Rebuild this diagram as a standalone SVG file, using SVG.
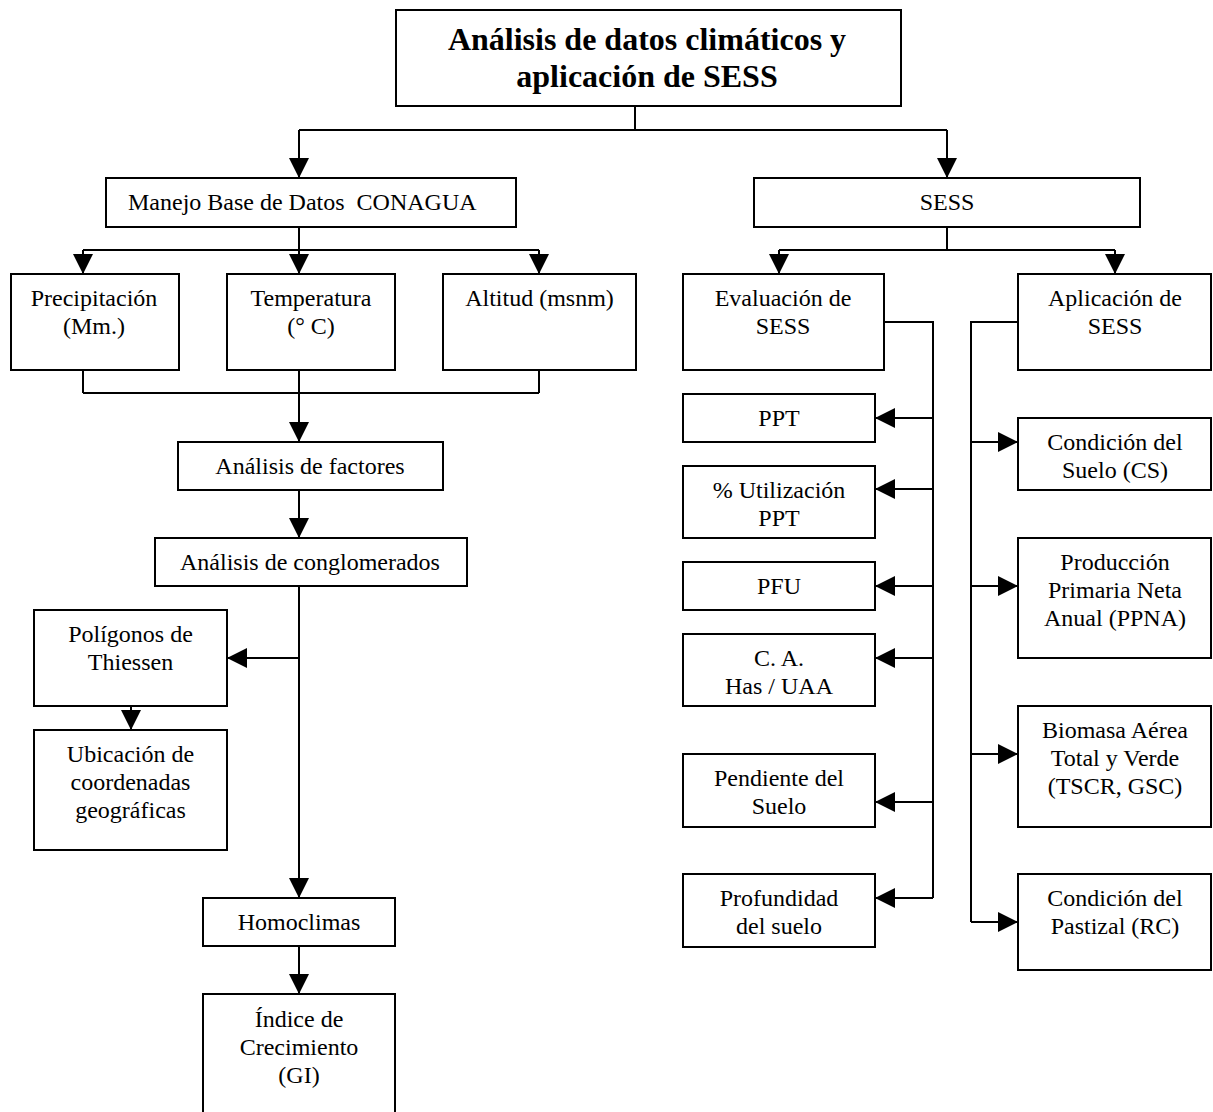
<svg xmlns="http://www.w3.org/2000/svg" width="1213" height="1112" viewBox="0 0 1213 1112">
<style>
.b{fill:#fff;stroke:#000;stroke-width:2}
.t{font-family:"Liberation Serif","Times New Roman",serif;font-size:24px;fill:#000;text-anchor:middle}
.h{font-family:"Liberation Serif","Times New Roman",serif;font-size:32px;font-weight:bold;fill:#000;text-anchor:middle}
.c{fill:none;stroke:#000;stroke-width:2}
</style>
<defs>
<marker id="a" markerUnits="userSpaceOnUse" markerWidth="20" markerHeight="20" refX="20" refY="10" orient="auto">
<path d="M0,0 L20,10 L0,20 z" fill="#000"/>
</marker>
</defs>
<rect width="1213" height="1112" fill="#fff"/>
<g id="connectors">
<path class="c" d="M635,106 V130 M299,130 H947"/>
<path class="c" d="M299,130 V178" marker-end="url(#a)"/>
<path class="c" d="M947,130 V178" marker-end="url(#a)"/>
<path class="c" d="M299,227 V250 M83,250 H539"/>
<path class="c" d="M83,250 V274" marker-end="url(#a)"/>
<path class="c" d="M299,250 V274" marker-end="url(#a)"/>
<path class="c" d="M539,250 V274" marker-end="url(#a)"/>
<path class="c" d="M947,227 V250 M779,250 H1115"/>
<path class="c" d="M779,250 V274" marker-end="url(#a)"/>
<path class="c" d="M1115,250 V274" marker-end="url(#a)"/>
<path class="c" d="M83,370 V393 M299,370 V393 M539,370 V393 M83,393 H539"/>
<path class="c" d="M299,393 V442" marker-end="url(#a)"/>
<path class="c" d="M299,490 V538" marker-end="url(#a)"/>
<path class="c" d="M299,586 V898" marker-end="url(#a)"/>
<path class="c" d="M299,658 H227" marker-end="url(#a)"/>
<path class="c" d="M131,706 V730" marker-end="url(#a)"/>
<path class="c" d="M299,946 V994" marker-end="url(#a)"/>
<path class="c" d="M884,322 H933 V898"/>
<path class="c" d="M933,418 H875" marker-end="url(#a)"/>
<path class="c" d="M933,489 H875" marker-end="url(#a)"/>
<path class="c" d="M933,586 H875" marker-end="url(#a)"/>
<path class="c" d="M933,658 H875" marker-end="url(#a)"/>
<path class="c" d="M933,802 H875" marker-end="url(#a)"/>
<path class="c" d="M933,898 H875" marker-end="url(#a)"/>
<path class="c" d="M1018,322 H971 V922"/>
<path class="c" d="M971,442 H1018" marker-end="url(#a)"/>
<path class="c" d="M971,586 H1018" marker-end="url(#a)"/>
<path class="c" d="M971,754 H1018" marker-end="url(#a)"/>
<path class="c" d="M971,922 H1018" marker-end="url(#a)"/>
</g>
<g id="title"><rect class="b" x="396" y="10" width="505" height="96"/><text class="h" x="647" y="50">Análisis de datos climáticos y</text><text class="h" x="647" y="87">aplicación de SESS</text></g>
<g id="manejo"><rect class="b" x="106" y="178" width="410" height="49"/><text class="t" x="128" y="210" style="text-anchor:start">Manejo Base de Datos&#160; CONAGUA</text></g>
<g id="sess"><rect class="b" x="754" y="178" width="386" height="49"/><text class="t" x="947" y="210">SESS</text></g>
<g id="precipitacion"><rect class="b" x="11" y="274" width="168" height="96"/><text class="t" x="94" y="306">Precipitación</text><text class="t" x="94" y="334">(Mm.)</text></g>
<g id="temperatura"><rect class="b" x="227" y="274" width="168" height="96"/><text class="t" x="311" y="306">Temperatura</text><text class="t" x="311" y="334">(° C)</text></g>
<g id="altitud"><rect class="b" x="443" y="274" width="193" height="96"/><text class="t" x="539.5" y="306">Altitud (msnm)</text></g>
<g id="evaluacion"><rect class="b" x="683" y="274" width="201" height="96"/><text class="t" x="783" y="306">Evaluación de</text><text class="t" x="783" y="334">SESS</text></g>
<g id="aplicacion"><rect class="b" x="1018" y="274" width="193" height="96"/><text class="t" x="1115" y="306">Aplicación de</text><text class="t" x="1115" y="334">SESS</text></g>
<g id="factores"><rect class="b" x="178" y="442" width="265" height="48"/><text class="t" x="310" y="474">Análisis de factores</text></g>
<g id="conglomerados"><rect class="b" x="155" y="538" width="312" height="48"/><text class="t" x="310" y="570">Análisis de conglomerados</text></g>
<g id="poligonos"><rect class="b" x="34" y="610" width="193" height="96"/><text class="t" x="130.5" y="642">Polígonos de</text><text class="t" x="130.5" y="670">Thiessen</text></g>
<g id="ubicacion"><rect class="b" x="34" y="730" width="193" height="120"/><text class="t" x="130.5" y="762">Ubicación de</text><text class="t" x="130.5" y="790">coordenadas</text><text class="t" x="130.5" y="818">geográficas</text></g>
<g id="homoclimas"><rect class="b" x="203" y="898" width="192" height="48"/><text class="t" x="299" y="930">Homoclimas</text></g>
<g id="indice"><rect class="b" x="203" y="994" width="192" height="130"/><text class="t" x="299" y="1027">Índice de</text><text class="t" x="299" y="1055">Crecimiento</text><text class="t" x="299" y="1083">(GI)</text></g>
<g id="ppt"><rect class="b" x="683" y="394" width="192" height="48"/><text class="t" x="779" y="426">PPT</text></g>
<g id="utilizacion"><rect class="b" x="683" y="466" width="192" height="72"/><text class="t" x="779" y="498">% Utilización</text><text class="t" x="779" y="526">PPT</text></g>
<g id="pfu"><rect class="b" x="683" y="562" width="192" height="48"/><text class="t" x="779" y="594">PFU</text></g>
<g id="ca"><rect class="b" x="683" y="634" width="192" height="72"/><text class="t" x="779" y="666">C. A.</text><text class="t" x="779" y="694">Has / UAA</text></g>
<g id="pendiente"><rect class="b" x="683" y="754" width="192" height="73"/><text class="t" x="779" y="786">Pendiente del</text><text class="t" x="779" y="814">Suelo</text></g>
<g id="profundidad"><rect class="b" x="683" y="874" width="192" height="73"/><text class="t" x="779" y="906">Profundidad</text><text class="t" x="779" y="934">del suelo</text></g>
<g id="cs"><rect class="b" x="1018" y="418" width="193" height="72"/><text class="t" x="1115" y="450">Condición del</text><text class="t" x="1115" y="478">Suelo (CS)</text></g>
<g id="ppna"><rect class="b" x="1018" y="538" width="193" height="120"/><text class="t" x="1115" y="570">Producción</text><text class="t" x="1115" y="598">Primaria Neta</text><text class="t" x="1115" y="626">Anual (PPNA)</text></g>
<g id="biomasa"><rect class="b" x="1018" y="706" width="193" height="121"/><text class="t" x="1115" y="738">Biomasa Aérea</text><text class="t" x="1115" y="766">Total y Verde</text><text class="t" x="1115" y="794">(TSCR, GSC)</text></g>
<g id="pastizal"><rect class="b" x="1018" y="874" width="193" height="96"/><text class="t" x="1115" y="906">Condición del</text><text class="t" x="1115" y="934">Pastizal (RC)</text></g>
</svg>
